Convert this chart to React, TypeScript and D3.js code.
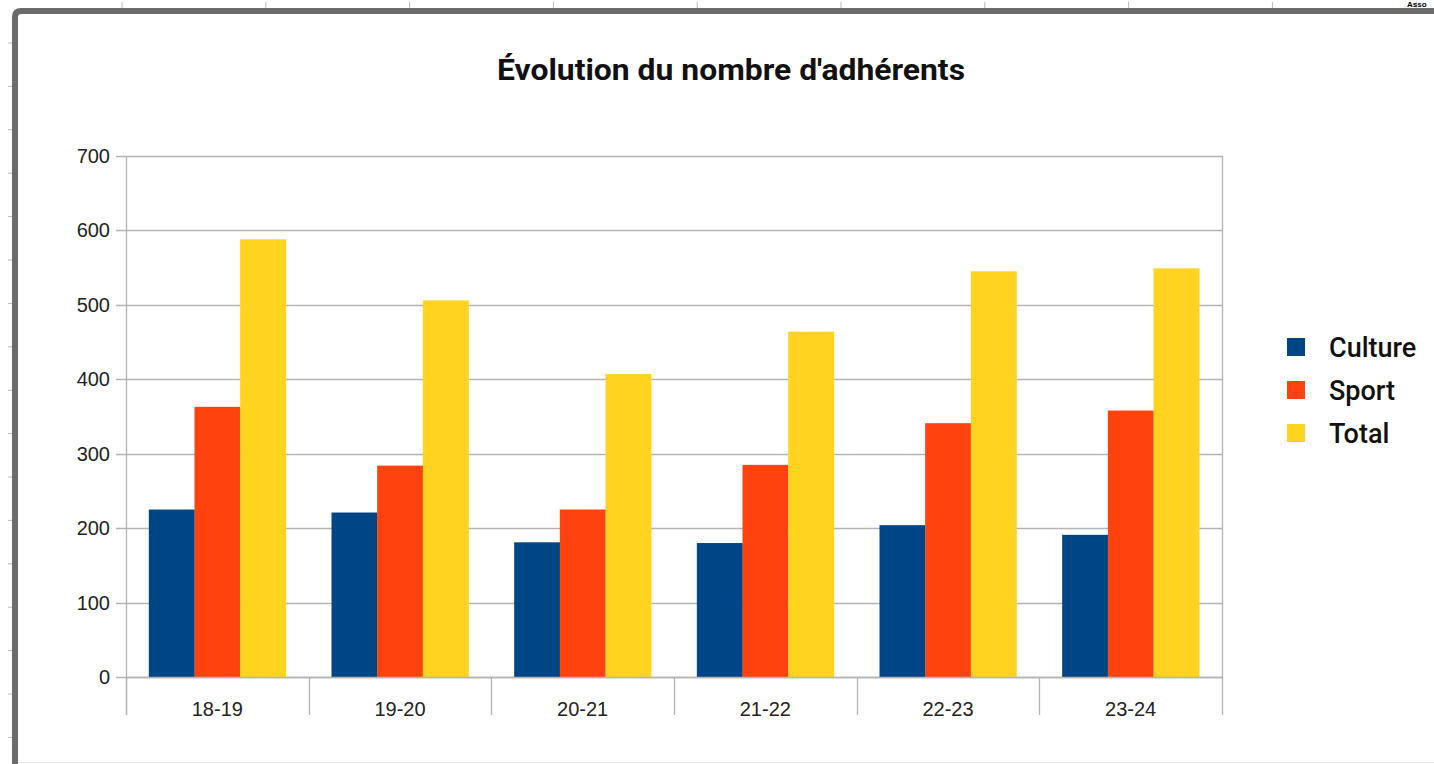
import React, { useRef, useEffect } from "react";
import * as d3 from "d3";

const categories = ["18-19", "19-20", "20-21", "21-22", "22-23", "23-24"];
const seriesNames = ["Culture", "Sport", "Total"];
const culture = [225, 221, 181, 180, 204, 191];
const sport = [363, 284, 225, 285, 341, 358];
const total = [588, 506, 407, 464, 545, 549];
const yTicks = [0, 100, 200, 300, 400, 500, 600, 700];
const colors = ["#004586", "#ff420e", "#ffd320"];
const title = "Évolution du nombre d'adhérents";

const W = 1434;
const H = 764;
const margin = { top: 156, right: 212, bottom: 87, left: 126 };

const App = () => {
  const canvas = useRef<SVGSVGElement>(null);

  useEffect(() => {
    const svg = d3.select(canvas.current);
    svg.selectAll("*").remove();

    const width = W - margin.left - margin.right;
    const height = H - margin.top - margin.bottom;

    // page frame (screenshot of the document)
    const frame = svg.append("g");
    frame.append("path")
      .attr("d", "M15,764 L15,17 Q15,11 21,11 L1434,11")
      .attr("fill", "none")
      .attr("stroke", "#6b6b6b")
      .attr("stroke-width", 6);
    frame.append("line")
      .attr("x1", 18).attr("x2", W).attr("y1", 762.5).attr("y2", 762.5)
      .attr("stroke", "#e4e4e4");
    d3.range(10).forEach(i => {
      const x = 122 + i * 143.8;
      frame.append("line").attr("x1", x).attr("x2", x).attr("y1", 2).attr("y2", 8)
        .attr("stroke", "#b8b8b8");
    });
    d3.range(17).forEach(i => {
      const y = 43 + i * 43.4;
      frame.append("line").attr("x1", 8).attr("x2", 12).attr("y1", y).attr("y2", y)
        .attr("stroke", "#b8b8b8");
    });
    frame.append("text")
      .attr("x", 1407).attr("y", 7)
      .attr("font-family", "Liberation Sans, Arial, sans-serif")
      .attr("font-size", 8).attr("font-weight", "bold")
      .text("Asso");

    const x0 = d3.scaleBand().domain(categories).range([0, width])
      .paddingInner(0.25).paddingOuter(0.125);
    const x1 = d3.scaleBand().domain(seriesNames).range([0, x0.bandwidth()]);
    const y = d3.scaleLinear().domain([0, 700]).range([height, 0]);

    const g = svg.append("g")
      .attr("transform", "translate(" + margin.left + "," + margin.top + ")");

    // gridlines
    g.selectAll(".grid").data(yTicks).enter().append("line")
      .attr("x1", -10).attr("x2", width)
      .attr("y1", d => Math.round(y(d)) + 0.5).attr("y2", d => Math.round(y(d)) + 0.5)
      .attr("stroke", "#b3b3b3").attr("stroke-width", 1.3);

    g.append("line")
      .attr("x1", width + 0.5).attr("x2", width + 0.5).attr("y1", 0).attr("y2", height)
      .attr("stroke", "#b3b3b3").attr("stroke-width", 1.3);

    // bars
    const data = categories.map((c, i) => ({ cat: c, vals: [culture[i], sport[i], total[i]] }));
    const groups = g.selectAll(".grp").data(data).enter().append("g")
      .attr("transform", d => "translate(" + x0(d.cat) + ",0)");
    groups.selectAll("rect").data(d => d.vals.map((v, j) => ({ v, j }))).enter().append("rect")
      .attr("x", d => x1(seriesNames[d.j]) as number)
      .attr("width", x1.bandwidth() + 0.3)
      .attr("y", d => y(d.v))
      .attr("height", d => height - y(d.v))
      .attr("fill", d => colors[d.j]);

    // y axis
    g.append("line")
      .attr("x1", 0.5).attr("x2", 0.5).attr("y1", 0).attr("y2", height + 38)
      .attr("stroke", "#b3b3b3").attr("stroke-width", 1.3);
    g.selectAll(".ylab").data(yTicks).enter().append("text")
      .attr("x", -16).attr("y", d => y(d))
      .attr("dy", "0.35em")
      .attr("text-anchor", "end")
      .attr("font-family", "Liberation Sans, Arial, sans-serif")
      .attr("font-size", 20)
      .attr("fill", "#222")
      .text(d => d);

    // x axis
    g.append("line")
      .attr("x1", 0).attr("x2", width).attr("y1", height + 0.5).attr("y2", height + 0.5)
      .attr("stroke", "#b3b3b3").attr("stroke-width", 1.3);
    const step = x0.step();
    d3.range(categories.length + 1).forEach(i => {
      const xx = Math.round(i * step) + 0.5;
      g.append("line")
        .attr("x1", xx).attr("x2", xx).attr("y1", height).attr("y2", height + 38)
        .attr("stroke", "#b3b3b3").attr("stroke-width", 1.3);
    });
    g.selectAll(".xlab").data(categories).enter().append("text")
      .attr("x", d => (x0(d) as number) + x0.bandwidth() / 2)
      .attr("y", height + 39)
      .attr("text-anchor", "middle")
      .attr("font-family", "Liberation Sans, Arial, sans-serif")
      .attr("font-size", 20)
      .attr("fill", "#222")
      .text(d => d);

    // title
    svg.append("text")
      .attr("x", 731).attr("y", 80)
      .attr("text-anchor", "middle")
      .attr("font-family", "Roboto, sans-serif")
      .attr("font-weight", "bold")
      .attr("font-size", 29)
      .attr("textLength", 468)
      .attr("lengthAdjust", "spacingAndGlyphs")
      .attr("fill", "#111")
      .text(title);

    // legend
    const legend = svg.append("g").attr("transform", "translate(1287,338)");
    seriesNames.forEach((name, i) => {
      legend.append("rect")
        .attr("x", 0).attr("y", i * 43)
        .attr("width", 18).attr("height", 18)
        .attr("fill", colors[i]);
      legend.append("text")
        .attr("x", 42).attr("y", i * 43 + 9)
        .attr("dy", "0.36em")
        .attr("font-family", "Roboto, sans-serif")
        .attr("font-weight", 500)
        .attr("font-size", 27)
        .attr("fill", "#111")
        .text(name);
    });
  });

  return (
    <svg ref={canvas} width={W} height={H}
      style={{ position: "absolute", left: 0, top: 0, background: "#fff" }} />
  );
};

export default App;
